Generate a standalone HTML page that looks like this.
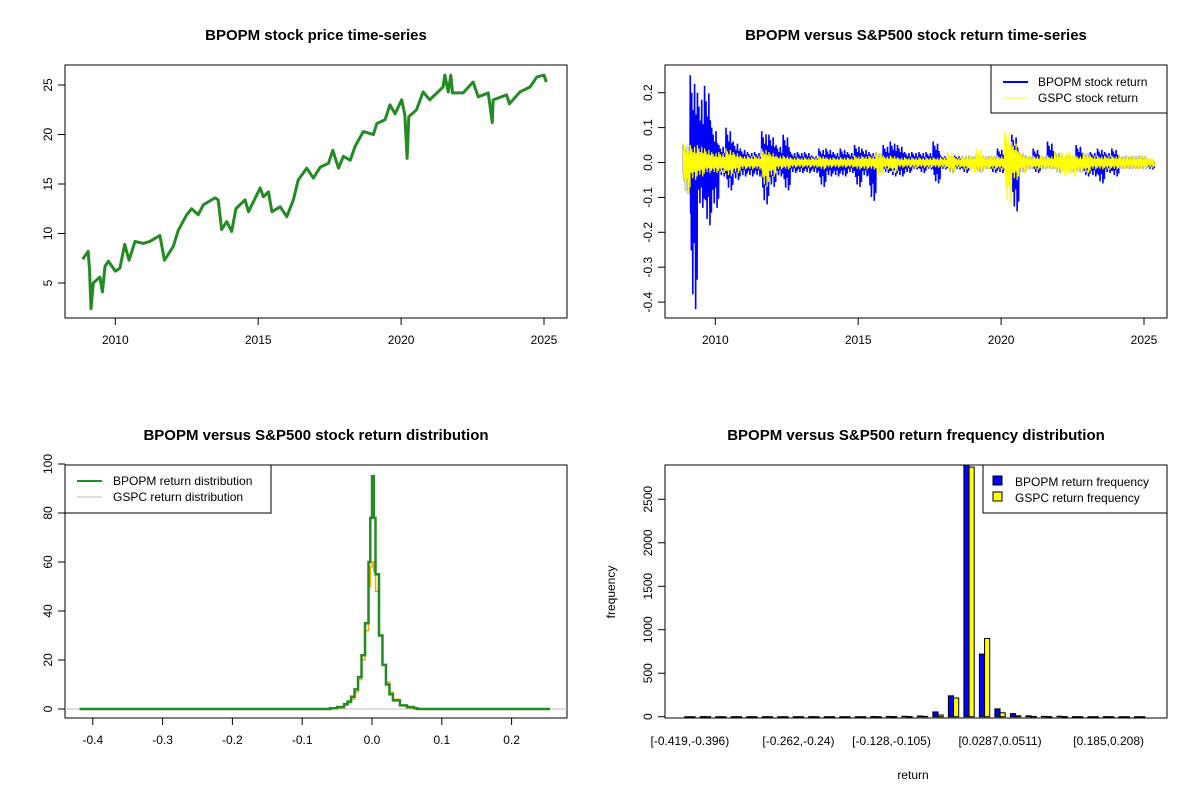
<!DOCTYPE html>
<html><head><meta charset="utf-8"><style>
html,body{margin:0;padding:0;background:#fff}
svg{display:block;font-family:"Liberation Sans",Arial,sans-serif}
.t{font-size:15px;font-weight:bold;text-anchor:middle}
.tk{font-size:12px;text-anchor:middle}
</style></head><body>
<svg id="s" width="1200" height="800" viewBox="0 0 1200 800" xmlns="http://www.w3.org/2000/svg">
<rect width="1200" height="800" fill="#fff"/>
<text class="t" x="316" y="40">BPOPM stock price time-series</text>
<text class="t" x="916" y="40">BPOPM versus S&amp;P500 stock return time-series</text>
<text class="t" x="316" y="440">BPOPM versus S&amp;P500 stock return distribution</text>
<text class="t" x="916" y="440">BPOPM versus S&amp;P500 return frequency distribution</text>
<g id="g1"></g>
<g id="g2"></g>
<g id="g3"></g>
<g id="g4"></g>
</svg>
<script>
// ---- data ----
const priceYears=[2008.86,2009.05,2009.1,2009.15,2009.23,2009.46,2009.55,2009.64,2009.76,2010,2010.16,2010.33,2010.48,2010.69,2010.98,2011.21,2011.56,2011.72,2012.03,2012.2,2012.5,2012.67,2012.9,2013.08,2013.49,2013.6,2013.72,2013.9,2014.07,2014.22,2014.54,2014.66,2015.07,2015.18,2015.36,2015.48,2015.77,2016.0,2016.23,2016.4,2016.7,2016.93,2017.17,2017.46,2017.61,2017.81,2017.98,2018.22,2018.39,2018.68,2019.03,2019.15,2019.44,2019.61,2019.79,2020.02,2020.13,2020.21,2020.27,2020.54,2020.77,2021.0,2021.47,2021.53,2021.65,2021.74,2021.8,2022.17,2022.52,2022.7,2023.05,2023.19,2023.22,2023.69,2023.79,2024.16,2024.51,2024.75,2025.0,2025.08];
const priceValues=[7.4,8.2,6.3,2.4,5.0,5.6,4.1,6.7,7.2,6.2,6.5,8.9,7.3,9.2,9.0,9.2,9.8,7.3,8.7,10.3,11.9,12.5,11.9,12.9,13.6,13.4,10.4,11.2,10.2,12.5,13.4,12.2,14.6,13.7,14.2,12.2,12.7,11.7,13.4,15.4,16.6,15.6,16.7,17.1,18.4,16.6,17.8,17.4,18.8,20.3,20.0,21.1,21.5,23.0,22.1,23.5,22.0,17.6,21.8,22.5,24.3,23.5,24.8,26.0,24.3,26.0,24.2,24.2,25.3,23.8,24.2,21.2,23.5,24.0,23.1,24.3,24.8,25.8,26.0,25.3];
const priceTicksY=[5,10,15,20,25];
const yearTicks=[2010,2015,2020,2025];
const retStart=2008.875, retStep=0.25;
const bpopmHi=[.05,.25,.20,.22,.10,.05,.10,.06,.04,.03,.03,.09,.08,.05,.08,.03,.03,.03,.02,.04,.04,.03,.04,.03,.05,.04,.03,.03,.05,.06,.05,.03,.03,.03,.03,.06,.02,.02,.02,.02,.02,.02,.02,.02,.04,.02,.08,.03,.02,.04,.02,.06,.03,.02,.02,.05,.03,.03,.04,.03,.04,.02,.02,.02,.02,.01];
const bpopmLo=[-.09,-.42,-.13,-.18,-.13,-.04,-.08,-.05,-.04,-.04,-.04,-.12,-.07,-.04,-.08,-.03,-.03,-.03,-.03,-.07,-.04,-.04,-.04,-.03,-.07,-.04,-.11,-.03,-.03,-.04,-.04,-.03,-.02,-.03,-.02,-.06,-.02,-.03,-.02,-.03,-.02,-.03,-.02,-.03,-.03,-.02,-.14,-.03,-.02,-.03,-.02,-.02,-.03,-.02,-.03,-.03,-.04,-.04,-.06,-.03,-.04,-.02,-.02,-.02,-.02,-.02];
const gspcHi=[.06,.05,.05,.04,.03,.03,.04,.03,.02,.02,.02,.04,.03,.02,.02,.015,.015,.015,.015,.02,.015,.015,.015,.015,.02,.02,.02,.03,.02,.02,.015,.015,.015,.015,.015,.015,.015,.03,.015,.02,.02,.04,.02,.02,.02,.09,.06,.03,.02,.02,.02,.02,.03,.03,.03,.02,.03,.02,.02,.02,.02,.02,.02,.02,.02,.015];
const gspcLo=[-.09,-.05,-.04,-.03,-.03,-.03,-.04,-.03,-.02,-.02,-.02,-.07,-.04,-.02,-.02,-.015,-.015,-.015,-.015,-.02,-.015,-.015,-.015,-.015,-.02,-.02,-.02,-.04,-.02,-.03,-.015,-.015,-.015,-.015,-.015,-.015,-.015,-.03,-.015,-.02,-.03,-.03,-.02,-.02,-.02,-.12,-.05,-.03,-.02,-.02,-.02,-.02,-.03,-.04,-.04,-.03,-.03,-.02,-.02,-.02,-.02,-.02,-.02,-.02,-.02,-.015];
const retTicksY=[-0.4,-0.3,-0.2,-0.1,0.0,0.1,0.2];
const densX=[-0.06,-0.05,-0.04,-0.035,-0.03,-0.025,-0.02,-0.015,-0.01,-0.005,-0.0025,0,0.0025,0.005,0.01,0.015,0.02,0.025,0.03,0.04,0.05,0.06];
const densBpopm=[0.3,0.8,2,3,5,8,13,22,35,60,78,95,78,55,30,18,10,6,3.5,1.5,0.8,0.3];
const densGspc=[0.2,0.5,1.5,2.5,4,7,12,20,32,50,58,60,56,48,30,18,11,7,4,1.5,0.5,0.2];
const densTicksX=[-0.4,-0.3,-0.2,-0.1,0.0,0.1,0.2];
const densTicksY=[0,20,40,60,80,100];
const binLabels=["[-0.419,-0.396)","","","","","","","[-0.262,-0.24)","","","","","","[-0.128,-0.105)","","","","","","","[0.0287,0.0511)","","","","","","","[0.185,0.208)","",""];
const freqBpopm=[0,1,0,0,0,0,0,0,1,0,0,0,2,3,5,8,55,240,2900,720,90,35,10,4,5,1,0,1,0,0];
const freqGspc=[0,0,0,0,0,0,0,0,0,0,0,0,0,1,2,4,20,215,2870,900,45,10,3,1,1,0,0,0,0,0];
const freqTicks=[0,500,1000,1500,2000,2500];

// ---- helpers ----
const NS="http://www.w3.org/2000/svg";
function mk(parent,tag,attrs,text){const e=document.createElementNS(NS,tag);for(const k in attrs)e.setAttribute(k,attrs[k]);if(text!==undefined)e.textContent=text;parent.appendChild(e);return e;}
function frame(g,x0,y0,x1,y1){const r=mk(g,'rect',{x:x0,y:y0,width:x1-x0,height:y1-y0,fill:'none',stroke:'#000','stroke-width':1});

}
function xAxis(g,ticks,fx,y,fmt,name){const a=mk(g,'g',{});


mk(a,'line',{x1:fx(ticks[0]),x2:fx(ticks[ticks.length-1]),y1:y,y2:y,stroke:'#000'});
ticks.forEach((t,i)=>{mk(a,'line',{x1:fx(t),x2:fx(t),y1:y,y2:y+7,stroke:'#000'});const l=mk(a,'text',{class:'tk',x:fx(t),y:y+26},fmt?fmt(t):String(t));

});}
function yAxis(g,ticks,fy,x,fmt,name){const a=mk(g,'g',{});


mk(a,'line',{x1:x,x2:x,y1:fy(ticks[0]),y2:fy(ticks[ticks.length-1]),stroke:'#000'});
ticks.forEach(t=>{const yy=fy(t);mk(a,'line',{x1:x-7,x2:x,y1:yy,y2:yy,stroke:'#000'});const l=mk(a,'text',{class:'tk',transform:`translate(${x-13},${yy}) rotate(-90)`},fmt?fmt(t):String(t));

});}

// ---- panel 1: price ----
(function(){const g=document.getElementById('g1');
const fx=y=>115.3+(y-2010)*28.58, fy=v=>283-(v-5)*9.9;
frame(g,65,65,567,318);
xAxis(g,yearTicks,fx,318,null,'price-x-axis');yAxis(g,priceTicksY,fy,65,null,'price-y-axis');
const p=mk(g,'polyline',{points:priceYears.map((y,i)=>fx(y)+','+fy(priceValues[i])).join(' '),fill:'none',stroke:'#228b22','stroke-width':3,'stroke-linejoin':'round'});

})();

// ---- panel 2: returns ----
(function(){const g=document.getElementById('g2');
const fx=y=>715.3+(y-2010)*28.58, fy=v=>162.5-v*349;
frame(g,665,65,1167,318);
xAxis(g,yearTicks,fx,318,null,'return-x-axis');yAxis(g,retTicksY,fy,665,t=>t.toFixed(1),'return-y-axis');
const pattern=[1,0.5,0.8,0.35,0.6,0.45,0.9,0.3,0.55,0.4];
function zig(hi,lo,col,w,name){const pts=[];const n=pattern.length;hi.forEach((h,i)=>{const t=retStart+i*retStep;
for(let k=0;k<n;k++){const tt=t+retStep*k/n;const a=pattern[k];const b=pattern[(k+3)%n];
pts.push(fx(tt)+','+fy(h*a));pts.push(fx(tt+retStep/(2*n))+','+fy(lo[i]*b));}});
const p=mk(g,'polyline',{points:pts.join(' '),fill:'none',stroke:col,'stroke-width':w});

}
zig(bpopmHi,bpopmLo,'#0000ff',1.6,'bpopm-return-line');
zig(gspcHi,gspcLo,'#ffff00',1.2,'gspc-return-line');
const lg=mk(g,'g',{});


mk(lg,'rect',{x:991,y:65,width:176,height:48,fill:'#fff',stroke:'#000'});
mk(lg,'line',{x1:1003,x2:1028,y1:82,y2:82,stroke:'#0000ff','stroke-width':2});
mk(lg,'line',{x1:1003,x2:1028,y1:98,y2:98,stroke:'#ffff00','stroke-width':1});
mk(lg,'text',{x:1038,y:86,'font-size':12},'BPOPM stock return');
mk(lg,'text',{x:1038,y:102,'font-size':12},'GSPC stock return');})();

// ---- panel 3: density ----
(function(){const g=document.getElementById('g3');
const fx=v=>372+v*698, fy=v=>709-v*2.45;
frame(g,65,465,567,718);
xAxis(g,densTicksX,fx,718,t=>t===0?'0.0':String(t),'density-x-axis');yAxis(g,densTicksY,fy,65,null,'density-y-axis');
const base=mk(g,'line',{x1:65,x2:567,y1:fy(0),y2:fy(0),stroke:'#bebebe','stroke-width':1});


function step(vals,col,w,name,ext){const pts=[];if(ext)pts.push(fx(-0.419)+','+fy(0));pts.push(fx(densX[0])+','+fy(0));
densX.forEach((x,i)=>{const x2=i<densX.length-1?densX[i+1]:x+0.005;pts.push(fx(x)+','+fy(vals[i]));pts.push(fx(x2)+','+fy(vals[i]));});
pts.push(fx(densX[densX.length-1]+0.005)+','+fy(0));if(ext)pts.push(fx(0.255)+','+fy(0));
const p=mk(g,'polyline',{points:pts.join(' '),fill:'none',stroke:col,'stroke-width':w});

}
step(densGspc,'#ffa500',1.5,'gspc-density-curve',false);
step(densBpopm,'#228b22',2.5,'bpopm-density-curve',true);
const lg=mk(g,'g',{});


mk(lg,'rect',{x:65,y:465,width:206,height:48,fill:'#fff',stroke:'#000'});
mk(lg,'line',{x1:77,x2:102,y1:481,y2:481,stroke:'#228b22','stroke-width':2});
mk(lg,'line',{x1:77,x2:102,y1:497,y2:497,stroke:'#bebebe','stroke-width':1});
mk(lg,'text',{x:113,y:485,'font-size':12},'BPOPM return distribution');
mk(lg,'text',{x:113,y:501,'font-size':12},'GSPC return distribution');})();

// ---- panel 4: histogram ----
(function(){const g=document.getElementById('g4');
const unit=5.17, ux=u=>684.7+(u-1)*unit, fy=v=>716.7-v*0.08696;
yAxis(g,freqTicks,fy,665,null,'frequency-y-axis');
const clip=mk(g,'clipPath',{id:'hc'});mk(clip,'rect',{x:665,y:465,width:502,height:253});
const bars=mk(g,'g',{'clip-path':'url(#hc)'});
freqBpopm.forEach((v,i)=>{const u=i*3+1;
const b=mk(bars,'rect',{x:ux(u),y:fy(v),width:unit,height:Math.max(fy(0)-fy(v),0.4),fill:'#0000ff',stroke:'#000','stroke-width':1});


const c=mk(bars,'rect',{x:ux(u+1),y:fy(freqGspc[i]),width:unit,height:Math.max(fy(0)-fy(freqGspc[i]),0.4),fill:'#ffff00',stroke:'#000','stroke-width':1});


if(binLabels[i]){const l=mk(g,'text',{class:'tk',x:ux(u+1),y:745},binLabels[i]);

}});
frame(g,665,465,1167,718);
const xl=mk(g,'text',{class:'tk',x:913,y:779},'return');


const yl=mk(g,'text',{class:'tk',transform:'translate(615,592) rotate(-90)'},'frequency');


const lg=mk(g,'g',{});


mk(lg,'rect',{x:983,y:465,width:184,height:48,fill:'#fff',stroke:'#000'});
mk(lg,'rect',{x:993,y:476,width:9,height:9,fill:'#0000ff',stroke:'#000'});
mk(lg,'rect',{x:993,y:492,width:9,height:9,fill:'#ffff00',stroke:'#000'});
mk(lg,'text',{x:1015,y:486,'font-size':12},'BPOPM return frequency');
mk(lg,'text',{x:1015,y:502,'font-size':12},'GSPC return frequency');})();
</script>
</body></html>
